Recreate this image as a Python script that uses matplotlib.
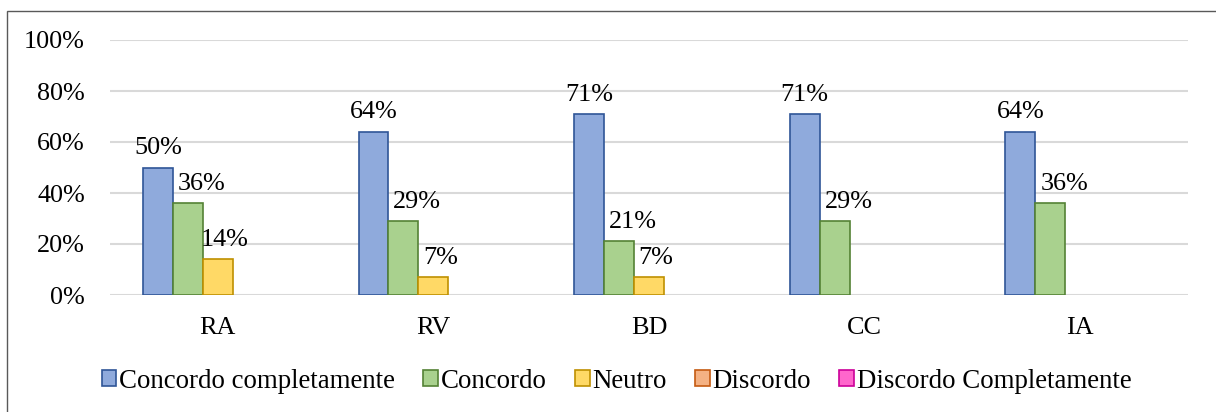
import matplotlib
matplotlib.use("Agg")
import matplotlib.pyplot as plt
import numpy as np
from matplotlib.patches import Rectangle, Patch

plt.rcParams["font.family"] = ["Liberation Serif", "DejaVu Serif"]

# survey answers per item, fraction of respondents
categories = ["RA", "RV", "BD", "CC", "IA"]
series_names = ["Concordo completamente", "Concordo", "Neutro", "Discordo",
                "Discordo Completamente"]
concordo_completamente = [0.50, 0.64, 0.71, 0.71, 0.64]
concordo = [0.36, 0.29, 0.21, 0.29, 0.36]
neutro = [0.14, 0.07, 0.07, 0.0, 0.0]
discordo = [0.0, 0.0, 0.0, 0.0, 0.0]
discordo_completamente = [0.0, 0.0, 0.0, 0.0, 0.0]
y_ticks = [0.0, 0.2, 0.4, 0.6, 0.8, 1.0]

series = [concordo_completamente, concordo, neutro, discordo,
          discordo_completamente]
fills = ["#8FAADC", "#A9D18E", "#FFD966", "#F4B183", "#FF66CC"]
edges = ["#2F5597", "#548235", "#BF9000", "#C55A11", "#CC0099"]
label_dx = [0, 10, 5, 0, 0]  # nudge labels so neighbours don't collide

W, H = 1216, 412
fig = plt.figure(figsize=(W / 100, H / 100), dpi=100)
ax = fig.add_axes([110 / W, (H - 295) / H, (1188 - 110) / W, 255 / H])

x = np.arange(len(categories))
bw = 30 / 216
fs = 18.8
for i, vals in enumerate(series):
    pos = x + (i - 2) * bw
    bars = ax.bar(pos, vals, width=bw, color=fills[i], edgecolor=edges[i],
                  linewidth=1.2, zorder=3)
    for b, v in zip(bars, vals):
        if v <= 0:
            b.set_visible(False)
            continue
        ax.annotate("%d%%" % round(v * 100),
                    (b.get_x() + b.get_width() / 2, v),
                    xytext=(label_dx[i], 6), textcoords="offset points",
                    ha="center", va="bottom", fontsize=fs, zorder=4)

ax.set_xlim(-0.5, len(categories) - 0.5)
ax.set_ylim(0, 1.0)
ax.set_yticks(y_ticks)
ax.set_yticklabels(["%d%%" % round(t * 100) for t in y_ticks], fontsize=fs)
ax.set_xticks(x)
ax.set_xticklabels(categories, fontsize=fs)
ax.tick_params(length=0)
ax.tick_params(axis="y", pad=18)
ax.tick_params(axis="x", pad=16)
ax.grid(axis="y", color="#D9D9D9", linewidth=1.5, zorder=0)
for s in ax.spines.values():
    s.set_visible(False)
ax.set_axisbelow(True)

handles = [Patch(facecolor=f, edgecolor=e, linewidth=1.2)
           for f, e in zip(fills, edges)]
leg = fig.legend(handles, series_names, loc="center",
                 bbox_to_anchor=(0.507, (H - 381) / H), ncol=5,
                 frameon=False, fontsize=19.4, handlelength=0.55,
                 handleheight=0.55, handletextpad=0.1, columnspacing=1.05)

# chart frame, only top and left edge fall inside the canvas
fig.patches.append(Rectangle((7 / W, -0.1), 1.2, (H - 11) / H + 0.1,
                             transform=fig.transFigure, fill=False,
                             edgecolor="#595959", linewidth=1.0))

fig.savefig("out.png", dpi=100)
